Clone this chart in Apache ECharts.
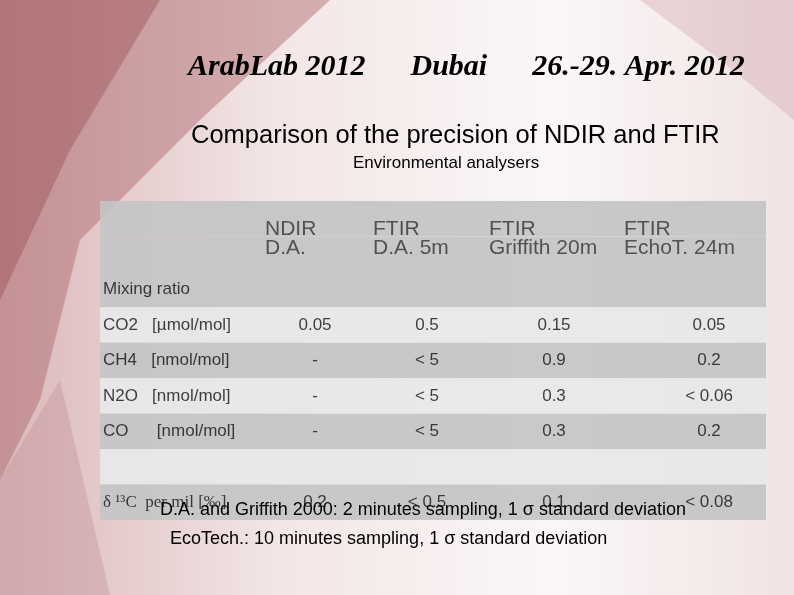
<!DOCTYPE html>
<html><head><meta charset="utf-8">
<script src="https://cdn.jsdelivr.net/npm/echarts@6/dist/echarts.min.js"></script>
<style>html,body{margin:0;padding:0;background:#fff}#c{width:794px;height:595px}</style>
</head><body><div id="c"></div>
<script>
// ---- data ----
const rowKeys = ['h1','h2','mix','co2','ch4','n2o','co','blank','d13c'];
const headerTop = ['', 'NDIR', 'FTIR', 'FTIR', 'FTIR'];
const headerBottom = ['', 'D.A.', 'D.A. 5m', 'Griffith 20m', 'EchoT. 24m'];
const rowLabels = ['Mixing ratio', 'CO2   [µmol/mol]', 'CH4   [nmol/mol]', 'N2O   [nmol/mol]', 'CO      [nmol/mol]', '', 'δ ¹³C  per mil [‰]'];
const ndir    = ['', '0.05', '-', '-', '-', '', '0.2'];
const ftirDA  = ['', '0.5', '< 5', '< 5', '< 5', '', '< 0.5'];
const griffith= ['', '0.15', '0.9', '0.3', '0.3', '', '0.1'];
const echoT   = ['', '0.05', '0.2', '< 0.06', '0.2', '', '< 0.08'];
const rowShade = ['dark','dark','dark','light','dark','light','dark','light','dark'];

// ---- layout ----
const headerX = [0, 265, 373, 489, 624];
const valueX = [0, 315, 427, 554, 709];
const labelX = 103;
const colors = {dark:'rgba(196,196,196,0.92)', light:'rgba(232,232,232,0.95)'};

const bg = rowKeys.map((k,i)=>({value:766, itemStyle:{color:colors[rowShade[i]]}}));
const texts = [];
for (let c=1;c<5;c++){
  texts.push({value:[headerX[c],0], txt:headerTop[c], align:'left', size:21, dy:10, color:'#333'});
  texts.push({value:[headerX[c],1], txt:headerBottom[c], align:'left', size:21, dy:-6, color:'#333'});
}
const valueCols = [null, ndir, ftirDA, griffith, echoT];
rowLabels.forEach((l,r)=>{
  if(l) texts.push({value:[labelX, r+2], txt:l, align:'left', size:17, serif: r===6});
  for(let c=1;c<5;c++){ const v=valueCols[c][r]; if(v) texts.push({value:[valueX[c], r+2], txt:v, align:'center', size:17}); }
});

const chart = echarts.init(document.getElementById('c'));
chart.setOption({
  backgroundColor: {type:'linear',x:0,y:0,x2:1,y2:0,colorStops:[{offset:0,color:'#dbb8ba'},{offset:0.35,color:'#f3e6e6'},{offset:0.7,color:'#fbf7f7'},{offset:1,color:'#f1e3e3'}]},
  animation:false,
  graphic:[
    {type:'polygon',shape:{points:[[0,0],[330,0],[200,120],[80,240],[40,400],[0,480]]},style:{fill:'rgba(170,100,105,0.45)'},z:-10},
    {type:'polygon',shape:{points:[[0,0],[160,0],[70,150],[0,300]]},style:{fill:'rgba(150,75,80,0.4)'},z:-9},
    {type:'polygon',shape:{points:[[0,480],[60,380],[110,595],[0,595]]},style:{fill:'rgba(190,140,145,0.35)'},z:-9},
    {type:'polygon',shape:{points:[[640,0],[794,0],[794,120],[720,60]]},style:{fill:'rgba(200,150,155,0.3)'},z:-9},
    {type:'text',left:188,top:52,style:{text:'ArabLab 2012      Dubai      26.-29. Apr. 2012',font:'italic bold 30px "Liberation Serif", serif',fill:'#000'}},
    {type:'text',left:191,top:123,style:{text:'Comparison of the precision of NDIR and FTIR',font:'25.5px "Liberation Sans", Arial, sans-serif',fill:'#000'}},
    {type:'text',left:353,top:155,style:{text:'Environmental analysers',font:'17px "Liberation Sans", Arial, sans-serif',fill:'#000'}},
    {type:'text',left:160,top:501,z:100,style:{text:'D.A. and Griffith 2000: 2 minutes sampling, 1 σ standard deviation',font:'18px "Liberation Sans", Arial, sans-serif',fill:'#000'}},
    {type:'text',left:170,top:530,z:100,style:{text:'EcoTech.: 10 minutes sampling, 1 σ standard deviation',font:'18px "Liberation Sans", Arial, sans-serif',fill:'#000'}}
  ],
  grid:{left:100,right:28,top:201,bottom:75},
  xAxis:{type:'value',min:100,max:766,show:false},
  yAxis:{type:'category',data:rowKeys,inverse:true,show:false},
  series:[
    {type:'bar',data:bg,barCategoryGap:0,barWidth:'100%',silent:true},
    {type:'scatter',symbolSize:0,data:texts.map(t=>({value:t.value,label:{show:true,position:'inside',offset:[0,t.dy||0],formatter:t.txt,align:t.align,fontSize:t.size,fontFamily:t.serif?'"Liberation Serif", serif':'"Liberation Sans", Arial, sans-serif',color:t.color||'#111'}}))}
  ]
});
</script></body></html>
